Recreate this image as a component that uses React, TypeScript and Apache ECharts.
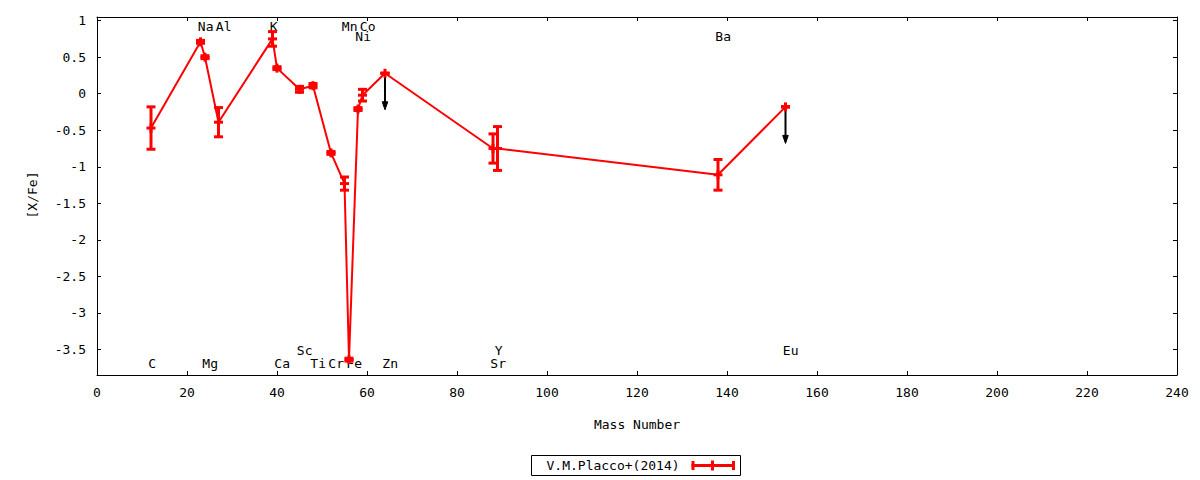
import React, { useEffect, useRef } from "react";
import * as echarts from "echarts";

// ---- data ----
const elements = ["C", "Na", "Mg", "Al", "K", "Ca", "Sc", "Ti", "Cr", "Mn", "Fe", "Ni", "Co", "Zn", "Sr", "Y", "Ba", "Eu"];
const massNumbers = [12, 23, 24, 27, 39, 40, 45, 48, 52, 55, 56, 58, 59, 64, 88, 89, 138, 153];
const abundances = [-0.47, 0.71, 0.5, -0.39, 0.75, 0.35, 0.06, 0.11, -0.81, -1.23, -3.64, -0.21, -0.02, 0.28, -0.75, -0.75, -1.11, -0.18];
const errors = [0.29, 0.02, 0.02, 0.2, 0.1, 0.02, 0.04, 0.03, 0.02, 0.09, 0.02, 0.02, 0.08, 0, 0.2, 0.3, 0.21, 0];
const upperLimits = ["Zn", "Eu"];
const labelY = [-3.69, 0.92, -3.69, 0.92, 0.92, -3.69, -3.51, -3.69, -3.69, 0.92, -3.69, 0.78, 0.92, -3.69, -3.69, -3.51, 0.78, -3.51];
const yTicks = [-3.5, -3, -2.5, -2, -1.5, -1, -0.5, 0, 0.5, 1];
const seriesName = "V.M.Placco+(2014)";

const RED = "#ff0000";
const FONT = "DejaVu Sans Mono";
const FS = 13;

export default function App() {
  const ref = useRef<HTMLDivElement>(null);

  useEffect(() => {
    if (!ref.current) return;
    const chart = echarts.init(ref.current, null, { renderer: "svg" });

    const points = massNumbers.map((m, i) => [m, abundances[i], errors[i]]);
    const linePts = massNumbers.map((m, i) => [m, abundances[i]]);
    const limitPts = massNumbers
      .map((m, i) => [m, abundances[i]])
      .filter((_, i) => upperLimits.includes(elements[i]));
    const labelPts = massNumbers.map((m, i) => [m, labelY[i], i]);

    const axisCommon = {
      axisLine: { show: true, onZero: false, lineStyle: { color: "#000", width: 1 } },
      axisTick: { show: true, inside: true, length: 4, lineStyle: { color: "#000" } },
      splitLine: { show: false },
    };

    const option: any = {
      animation: false,
      backgroundColor: "#fff",
      grid: { left: 97, right: 23, top: 17, bottom: 105, show: false },
      xAxis: [
        {
          type: "value",
          min: 0,
          max: 240,
          interval: 20,
          position: "bottom",
          ...axisCommon,
          axisLabel: { color: "#000", fontFamily: FONT, fontSize: FS, margin: 11 },
        },
        {
          type: "value",
          min: 0,
          max: 240,
          interval: 20,
          position: "top",
          ...axisCommon,
          axisLabel: { show: false },
        },
      ],
      yAxis: [
        {
          type: "value",
          min: -3.85,
          max: 1.05,
          position: "left",
          ...axisCommon,
          axisTick: { show: true, inside: true, length: 4, lineStyle: { color: "#000" }, customValues: yTicks },
          axisLabel: { color: "#000", fontFamily: FONT, fontSize: FS, margin: 11, customValues: yTicks },
        },
        {
          type: "value",
          min: -3.85,
          max: 1.05,
          position: "right",
          ...axisCommon,
          axisTick: { show: true, inside: true, length: 4, lineStyle: { color: "#000" }, customValues: yTicks },
          axisLabel: { show: false },
        },
      ],
      series: [
        {
          type: "custom",
          name: "labels",
          z: 1,
          data: labelPts,
          renderItem: (params: any, api: any) => {
            const p = api.coord([api.value(0) - 0.6, api.value(1)]);
            return {
              type: "text",
              x: p[0],
              y: p[1],
              style: {
                text: elements[api.value(2)],
                fill: "#000",
                fontFamily: FONT,
                fontSize: FS,
                align: "left",
                verticalAlign: "middle",
              },
            };
          },
        },
        {
          type: "line",
          name: seriesName,
          z: 2,
          data: linePts,
          showSymbol: false,
          symbol: "none",
          lineStyle: { color: RED, width: 2 },
          itemStyle: { color: RED },
        },
        {
          type: "custom",
          name: "limits",
          z: 3,
          data: limitPts,
          renderItem: (params: any, api: any) => {
            const c = api.coord([api.value(0), api.value(1)]);
            const t = api.coord([api.value(0), api.value(1) - 0.5]);
            const style = { stroke: "#000", lineWidth: 2 };
            return {
              type: "group",
              children: [
                { type: "line", shape: { x1: c[0], y1: c[1], x2: t[0], y2: t[1] - 4 }, style },
                {
                  type: "polygon",
                  shape: { points: [[t[0], t[1]], [t[0] - 2.8, t[1] - 8], [t[0] + 2.8, t[1] - 8]] },
                  style: { fill: "#000", stroke: "#000", lineWidth: 1 },
                },
              ],
            };
          },
        },
        {
          type: "custom",
          name: "points",
          z: 4,
          data: points,
          renderItem: (params: any, api: any) => {
            const x = api.value(0);
            const y = api.value(1);
            const e = api.value(2);
            const c = api.coord([x, y]);
            const t = api.coord([x, y + e]);
            const b = api.coord([x, y - e]);
            const hw = 4.5;
            const style = { stroke: RED, lineWidth: 3 };
            return {
              type: "group",
              children: [
                { type: "line", shape: { x1: c[0], y1: t[1], x2: c[0], y2: b[1] }, style },
                { type: "line", shape: { x1: c[0] - hw, y1: t[1], x2: c[0] + hw, y2: t[1] }, style },
                { type: "line", shape: { x1: c[0] - hw, y1: b[1], x2: c[0] + hw, y2: b[1] }, style },
                { type: "line", shape: { x1: c[0] - hw, y1: c[1], x2: c[0] + hw, y2: c[1] }, style },
                { type: "line", shape: { x1: c[0], y1: c[1] - hw, x2: c[0], y2: c[1] + hw }, style },
              ],
            };
          },
        },
      ],
      graphic: [
        {
          type: "text",
          x: 637,
          y: 424,
          style: { text: "Mass Number", fill: "#000", fontFamily: FONT, fontSize: FS, align: "center", verticalAlign: "middle" },
        },
        {
          type: "text",
          x: 32,
          y: 195,
          rotation: Math.PI / 2,
          style: { text: "[X/Fe]", fill: "#000", fontFamily: FONT, fontSize: FS, align: "center", verticalAlign: "middle" },
        },
        {
          type: "group",
          children: [
            {
              type: "rect",
              shape: { x: 531.5, y: 455.5, width: 209, height: 20 },
              style: { fill: "#fff", stroke: "#000", lineWidth: 1 },
            },
            {
              type: "text",
              x: 546.5,
              y: 465.5,
              style: { text: seriesName, fill: "#000", fontFamily: FONT, fontSize: FS, align: "left", verticalAlign: "middle" },
            },
            { type: "line", shape: { x1: 691.5, y1: 465.5, x2: 735, y2: 465.5 }, style: { stroke: RED, lineWidth: 3 } },
            { type: "line", shape: { x1: 693, y1: 461, x2: 693, y2: 470 }, style: { stroke: RED, lineWidth: 3 } },
            { type: "line", shape: { x1: 733.5, y1: 461, x2: 733.5, y2: 470 }, style: { stroke: RED, lineWidth: 3 } },
            { type: "line", shape: { x1: 712.5, y1: 460.5, x2: 712.5, y2: 470.5 }, style: { stroke: RED, lineWidth: 3 } },
          ],
        },
      ],
    };

    chart.setOption(option);
    return () => chart.dispose();
  }, []);

  return (
    <div
      ref={ref}
      style={{ position: "fixed", left: 0, top: 0, width: 1200, height: 480, background: "#fff" }}
    />
  );
}
